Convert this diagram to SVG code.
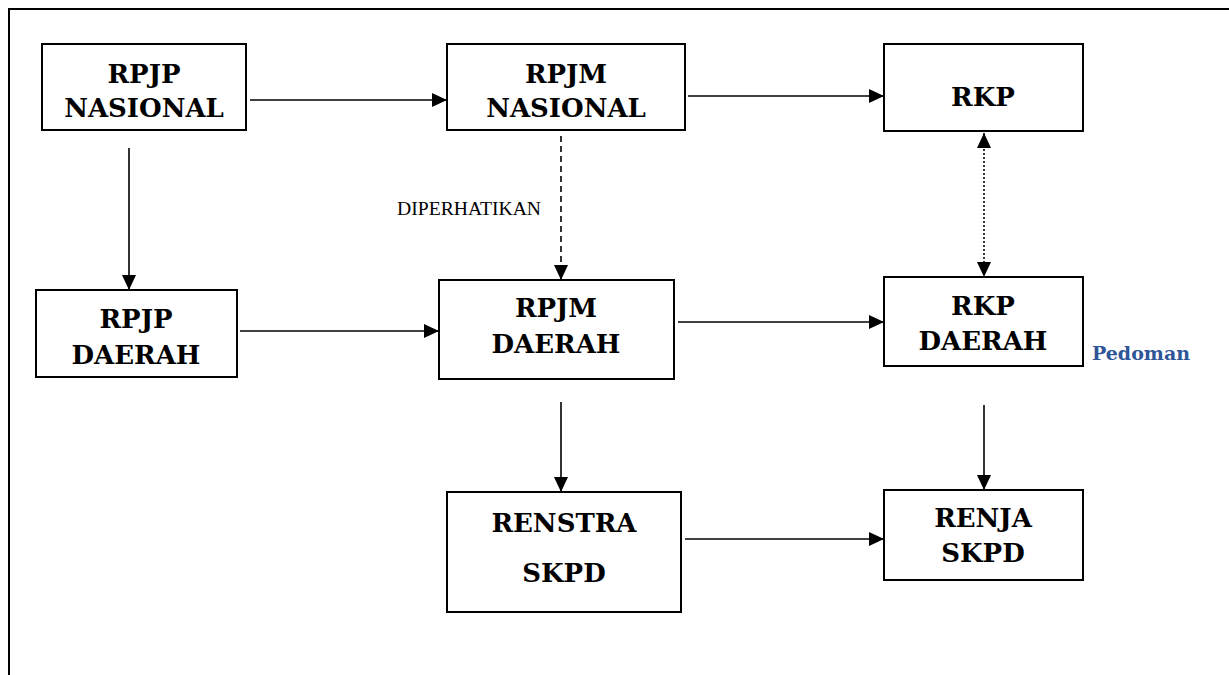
<svg xmlns="http://www.w3.org/2000/svg" width="1229" height="675" viewBox="0 0 1229 675">
<style>
.box{fill:#fff;stroke:#000;stroke-width:2}
.t{font-family:"DejaVu Serif","Liberation Serif",serif;font-weight:bold;font-size:26px;text-anchor:middle;fill:#000}
.c{stroke:#000;stroke-width:1.6;fill:none}
.lbl{font-family:"Liberation Serif",serif;font-size:18px;fill:#000}
.ped{font-family:"DejaVu Serif","Liberation Serif",serif;font-weight:bold;font-size:19px;fill:#2E5597}
</style>
<defs>
<marker id="ah" markerUnits="userSpaceOnUse" markerWidth="16" markerHeight="14" refX="15" refY="7" orient="auto-start-reverse">
<path d="M0,0 L15,7 L0,14 Z" fill="#000"/>
</marker>
</defs>
<rect width="1229" height="675" fill="#fff"/>
<path d="M9,675 V9 H1229" fill="none" stroke="#000" stroke-width="2"/>
<g id="connectors">
<line class="c" x1="250" y1="100" x2="447" y2="100" marker-end="url(#ah)"/>
<line class="c" x1="688" y1="96" x2="884" y2="96" marker-end="url(#ah)"/>
<line class="c" x1="129" y1="148" x2="129" y2="290" marker-end="url(#ah)"/>
<line class="c" x1="561" y1="136" x2="561" y2="280" stroke-dasharray="6,4" marker-end="url(#ah)"/>
<line class="c" x1="984" y1="133" x2="984" y2="277" stroke-dasharray="2,2" marker-start="url(#ah)" marker-end="url(#ah)"/>
<line class="c" x1="240" y1="331" x2="439" y2="331" marker-end="url(#ah)"/>
<line class="c" x1="678" y1="322" x2="884" y2="322" marker-end="url(#ah)"/>
<line class="c" x1="561" y1="402" x2="561" y2="492" marker-end="url(#ah)"/>
<line class="c" x1="984" y1="405" x2="984" y2="490" marker-end="url(#ah)"/>
<line class="c" x1="685" y1="539" x2="884" y2="539" marker-end="url(#ah)"/>
<text class="lbl" x="397" y="215" textLength="144" lengthAdjust="spacingAndGlyphs">DIPERHATIKAN</text>
</g>
<g id="rpjp-nasional">
<rect class="box" x="42" y="44" width="204" height="86"/>
<text class="t" x="144" y="83">RPJP</text>
<text class="t" x="144" y="117">NASIONAL</text>
</g>
<g id="rpjm-nasional">
<rect class="box" x="447" y="44" width="238" height="86"/>
<text class="t" x="566" y="83">RPJM</text>
<text class="t" x="566" y="117">NASIONAL</text>
</g>
<g id="rkp">
<rect class="box" x="884" y="44" width="199" height="87"/>
<text class="t" x="983" y="106">RKP</text>
</g>
<g id="rpjp-daerah">
<rect class="box" x="36" y="290" width="201" height="87"/>
<text class="t" x="136" y="328">RPJP</text>
<text class="t" x="136" y="364">DAERAH</text>
</g>
<g id="rpjm-daerah">
<rect class="box" x="439" y="280" width="235" height="99"/>
<text class="t" x="556" y="317">RPJM</text>
<text class="t" x="556" y="353">DAERAH</text>
</g>
<g id="rkp-daerah">
<rect class="box" x="884" y="277" width="199" height="89"/>
<text class="t" x="983" y="315">RKP</text>
<text class="t" x="983" y="350">DAERAH</text>
<text class="ped" x="1092" y="360">Pedoman</text>
</g>
<g id="renstra-skpd">
<rect class="box" x="447" y="492" width="234" height="120"/>
<text class="t" x="564" y="532">RENSTRA</text>
<text class="t" x="564" y="582">SKPD</text>
</g>
<g id="renja-skpd">
<rect class="box" x="884" y="490" width="199" height="90"/>
<text class="t" x="983" y="527">RENJA</text>
<text class="t" x="983" y="562">SKPD</text>
</g>
</svg>
